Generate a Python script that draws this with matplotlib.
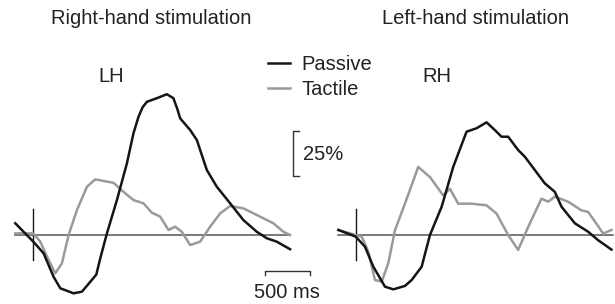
import matplotlib.pyplot as plt
from matplotlib.lines import Line2D

plt.rcParams['font.family'] = ['Liberation Sans', 'DejaVu Sans']

W, H, DPI = 615, 304, 100
PX_MS = 0.09      # pixels per ms (500 ms = 45 px)
PX_PCT = 1.8      # pixels per % (25 % = 45 px)
BASE_Y = 235      # pixel row of the zero line
BLACK = '#151515'
GREY = '#9a9a9a'
TXT = '#222222'

# Right-hand stimulation, LH (time in ms, amplitude in %)
lh_passive_t = [-200, 0, 115, 225, 300, 447, 540, 633, 700, 744, 818, 929, 1040, 1113,
                1169, 1215, 1262, 1373, 1484, 1557, 1600, 1632, 1743, 1817, 1928, 2039,
                2187, 2334, 2483, 2594, 2705, 2853]
lh_passive_v = [6.5, -3.7, -10.2, -23.2, -29.6, -32.4, -31.5, -26, -22, -13, 0.9, 19.4,
                39.8, 56.5, 65.7, 71, 74, 76, 78.2, 76, 70, 64.8, 58.3, 52.8, 36.1, 26.8,
                17.6, 8.3, 1.8, -1.8, -3.7, -7.9]
lh_tactile_t = [-200, 0, 78, 152, 244, 318, 392, 485, 596, 688, 891, 1002, 1113, 1224,
                1317, 1410, 1502, 1576, 1650, 1743, 1854, 1965, 2076, 2187, 2334, 2520,
                2668, 2778, 2853]
lh_tactile_v = [0.9, 0.9, -3.7, -12, -21.3, -15.7, 0, 13.9, 26.8, 30.9, 29, 24, 19.4, 17.6,
                12.4, 10.2, 2.8, 4.6, 1.8, -5.6, -3.7, 4.6, 12, 16.1, 14.8, 10.2,
                6.5, 1.8, 0]

# Left-hand stimulation, RH
rh_passive_t = [-193, 0, 103, 196, 325, 418, 547, 622, 733, 825, 955, 1084, 1232, 1343,
                1454, 1546, 1620, 1694, 1805, 1879, 1990, 2101, 2212, 2287, 2435, 2583,
                2694, 2842]
rh_passive_v = [2.8, -0.9, -6.5, -17.6, -28.7, -30.2, -28.3, -25, -17.6, 0, 15.7, 37.9,
                57.4, 59.3, 62.6, 58.3, 54.6, 54.6, 47.2, 43.5, 36.1, 28.7, 24, 15.7,
                6.5, 1.8, -2.9, -8.1]
rh_tactile_t = [-193, 0, 67, 140, 214, 289, 362, 436, 547, 695, 825, 972, 1047, 1139,
                1287, 1454, 1565, 1694, 1805, 1916, 2064, 2138, 2212, 2360, 2508, 2583,
                2675, 2749, 2842]
rh_tactile_v = [2.8, 0, -0.9, -9.3, -25, -25.9, -15.7, 2.6, 17.4, 37.8, 32.2, 22, 25.7,
                17.4, 17.4, 16.5, 11.9, 0, -8.3, 4.4, 20.2, 18.5, 21.3, 18.5, 13.7, 12.8,
                6.3, 0.8, 2.8]

panels = [
    # x pixel span of axes, stimulus pixel x, baseline range, curves
    (0, 307.5, 33.3, (-200, 2853), lh_passive_t, lh_passive_v, lh_tactile_t, lh_tactile_v),
    (307.5, 615, 355.7, (-193, 2863), rh_passive_t, rh_passive_v, rh_tactile_t, rh_tactile_v),
]

fig = plt.figure(figsize=(W / DPI, H / DPI), dpi=DPI)
axes = []
for x0, x1, stim_px, base, pt, pv, tt, tv in panels:
    ax = fig.add_axes([x0 / W, 0, (x1 - x0) / W, 1])
    ax.set_xlim((x0 - stim_px) / PX_MS, (x1 - stim_px) / PX_MS)
    ax.set_ylim((BASE_Y - H) / PX_PCT, BASE_Y / PX_PCT)
    ax.axis('off')
    ax.plot(base, [0, 0], color='#555555', lw=1.1, zorder=1)
    ax.plot([0, 0], [-13.9, 14.4], color=BLACK, lw=1.0, zorder=1)
    ax.plot(tt, tv, color=GREY, lw=1.8, zorder=2, solid_joinstyle='round')
    ax.plot(pt, pv, color=BLACK, lw=1.8, zorder=3, solid_joinstyle='round')
    axes.append(ax)

ax = axes[0]
# 500 ms time bar
tb0, tb_v = 2573, -19.8
ax.plot([tb0, tb0, tb0 + 500, tb0 + 500], [tb_v - 2.4, tb_v, tb_v, tb_v - 2.4],
        color='#333333', lw=1.0, clip_on=False)
# 25 % amplitude bracket
br_t, br_v = 2889, 32.8
ax.plot([br_t + 60, br_t, br_t, br_t + 60], [br_v, br_v, br_v + 25, br_v + 25],
        color='#333333', lw=1.0, clip_on=False)

fs = 14.5
fig.text(151.5 / W, 1 - 19 / H, 'Right-hand stimulation', ha='center', va='center',
         fontsize=fs, color=TXT)
fig.text(475 / W, 1 - 19 / H, 'Left-hand stimulation', ha='center', va='center',
         fontsize=fs, color=TXT)
fig.text(111 / W, 1 - 76 / H, 'LH', ha='center', va='center', fontsize=fs, color=TXT)
fig.text(437 / W, 1 - 76 / H, 'RH', ha='center', va='center', fontsize=fs, color=TXT)
fig.text(287 / W, 1 - 293 / H, '500 ms', ha='center', va='center', fontsize=fs, color=TXT)
fig.text(303 / W, 1 - 155 / H, '25%', ha='left', va='center', fontsize=fs, color=TXT)

handles = [Line2D([], [], color=BLACK, lw=1.8), Line2D([], [], color=GREY, lw=1.8)]
fig.legend(handles, ['Passive', 'Tactile'], loc='upper left',
           bbox_to_anchor=(268 / W, 1 - 55 / H), frameon=False, fontsize=fs,
           handlelength=1.1, handletextpad=0.55, labelspacing=0.32,
           borderpad=0, borderaxespad=0, labelcolor=TXT)

fig.savefig('out.png', dpi=DPI)
